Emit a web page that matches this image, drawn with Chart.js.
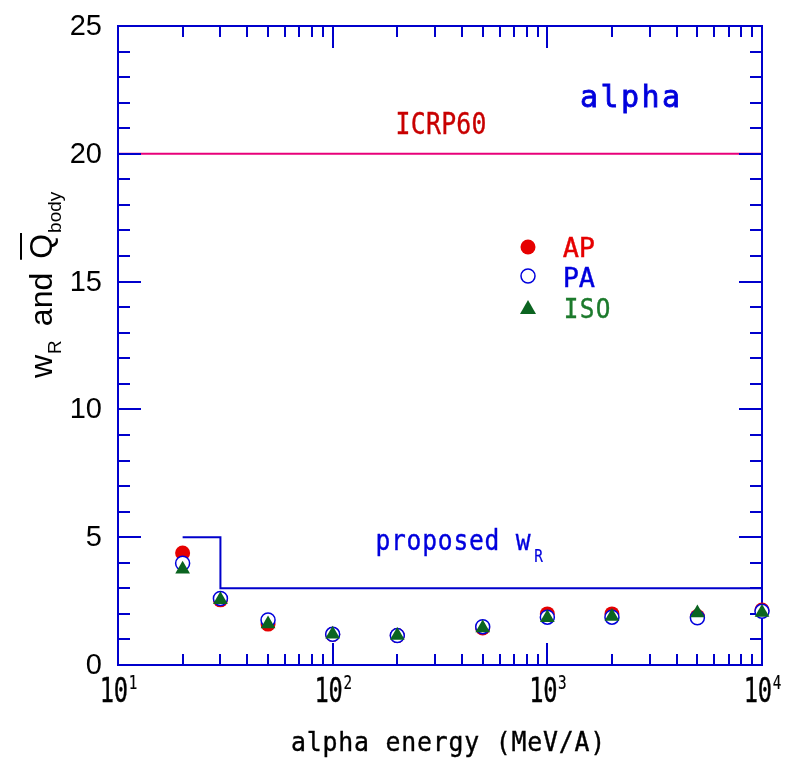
<!DOCTYPE html>
<html>
<head>
<meta charset="utf-8">
<script src="https://cdn.jsdelivr.net/npm/chart.js@4.4.0/dist/chart.umd.min.js"></script>
<style>
  html, body { margin: 0; padding: 0; background: #fff; }
  #wrap { width: 788px; height: 758px; }
</style>
</head>
<body>
<div id="wrap"><canvas id="c" width="788" height="758"></canvas></div>
<script>
// values
const energies = [20, 30, 50, 100, 200, 500, 1000, 2000, 5000, 10000];
const apValues = [4.38, 2.55, 1.6, 1.2, 1.15, 1.45, 2.0, 2.0, 1.9, 2.15];
const paValues = [3.98, 2.6, 1.76, 1.2, 1.15, 1.5, 1.87, 1.87, 1.85, 2.1];
const isoValues = [3.75, 2.55, 1.6, 1.2, 1.15, 1.45, 1.85, 1.9, 2.03, 2.05];
const proposedX = [20, 30, 30, 10000];
const proposedY = [5, 5, 3, 3];
const icrpX = [10, 10000];
const icrpY = [20, 20];
const yTicks = [0, 5, 10, 15, 20, 25];
const xDecades = [1, 2, 3, 4];

const AXIS = '#0000cc';
const RED = '#e60000';
const BLUE = '#0000dd';
const GREEN = '#0b6420';

const pts = (xs, ys) => xs.map((x, i) => ({ x: x, y: ys[i] }));

// gothic-like text, drawn char by char at a fixed pitch
function mono(ctx, text, x, y, size, pitch, sx, color, align, thick) {
  ctx.save();
  ctx.font = size + 'px "DejaVu Sans Mono"';
  ctx.fillStyle = color;
  ctx.strokeStyle = color;
  ctx.lineWidth = thick === undefined ? 0.3 : thick;
  ctx.textAlign = 'center';
  ctx.textBaseline = 'alphabetic';
  const w = text.length * pitch;
  let x0 = align === 'center' ? x - w / 2 : align === 'right' ? x - w : x;
  for (let i = 0; i < text.length; i++) {
    ctx.save();
    ctx.translate(x0 + pitch * (i + 0.5), y);
    ctx.scale(sx, 1);
    ctx.fillText(text[i], 0, 0);
    if (ctx.lineWidth > 0.01) ctx.strokeText(text[i], 0, 0);
    ctx.restore();
  }
  ctx.restore();
  return x0 + w;
}

// helvetica-like text, returns end x
function sans(ctx, text, x, y, size) {
  ctx.font = size + 'px "Liberation Sans"';
  ctx.textAlign = 'left';
  ctx.fillText(text, x, y);
  return x + ctx.measureText(text).width;
}

function drawFrame(chart) {
  const { ctx, chartArea: a, scales } = chart;
  ctx.save();
  ctx.strokeStyle = AXIS;
  ctx.lineWidth = 2;
  ctx.strokeRect(a.left, a.top, a.right - a.left, a.bottom - a.top);
  ctx.beginPath();
  for (let v = 0; v <= 25; v++) {
    const y = Math.round(scales.y.getPixelForValue(v));
    const len = v % 5 === 0 ? 23 : 12;
    ctx.moveTo(a.left, y); ctx.lineTo(a.left + len, y);
    ctx.moveTo(a.right, y); ctx.lineTo(a.right - len, y);
  }
  for (let d = 1; d <= 4; d++) {
    for (let m = 1; m <= 9; m++) {
      const v = m * Math.pow(10, d);
      if (v > 10000) break;
      const x = Math.round(scales.x.getPixelForValue(v));
      const len = m === 1 ? 22 : 11;
      ctx.moveTo(x, a.bottom); ctx.lineTo(x, a.bottom - len);
      ctx.moveTo(x, a.top); ctx.lineTo(x, a.top + len);
    }
  }
  ctx.stroke();
  ctx.restore();
}

function drawTexts(chart) {
  const { ctx, chartArea: a, scales } = chart;
  ctx.save();
  // y tick labels
  ctx.font = '29px "Liberation Sans"';
  ctx.fillStyle = '#000';
  ctx.textAlign = 'right';
  ctx.textBaseline = 'middle';
  yTicks.forEach(v => ctx.fillText(String(v), 102, scales.y.getPixelForValue(v) + 1));
  // x tick labels 10^n
  xDecades.forEach(d => {
    const x = scales.x.getPixelForValue(Math.pow(10, d));
    const w = 28 + 8;
    const end = mono(ctx, '10', x - w / 2, 702, 33, 14, 0.72, '#000', 'left', 0.4);
    mono(ctx, String(d), end + 1, 689, 19, 8, 0.75, '#000', 'left', 0.2);
  });
  // axis titles
  mono(ctx, 'alpha energy (MeV/A)', (a.left + a.right) / 2 + 8, 751, 27, 15.75, 0.92, '#000', 'center', 0.4);
  ctx.save();
  ctx.translate(52, 378);
  ctx.rotate(-Math.PI / 2);
  ctx.fillStyle = '#000';
  ctx.textBaseline = 'alphabetic';
  let p = sans(ctx, 'w', 0, 0, 32);
  p = sans(ctx, 'R', p + 1, 9, 19);
  p = sans(ctx, 'and', p + 14, 0, 32);
  const qx = p + 14;
  p = sans(ctx, 'Q', qx, 0, 32);
  ctx.strokeStyle = '#000';
  ctx.lineWidth = 2;
  ctx.beginPath(); ctx.moveTo(qx - 1, -31); ctx.lineTo(p + 1, -31); ctx.stroke();
  sans(ctx, 'body', p + 1, 9, 19);
  ctx.restore();
  // annotations
  mono(ctx, 'alpha', 630, 107, 30, 20.5, 1.0, BLUE, 'center', 0.8);
  mono(ctx, 'ICRP60', 441, 134, 31, 15.2, 0.8, '#c80000', 'center', 0.4);
  p = mono(ctx, 'proposed w', 375, 550, 29, 15.6, 0.85, BLUE, 'left', 0.4);
  mono(ctx, 'R', p + 2, 562, 18, 11, 0.8, BLUE, 'left', 0.2);
  // legend
  ctx.lineWidth = 1.5;
  ctx.fillStyle = RED;
  ctx.beginPath(); ctx.arc(528, 247, 7.5, 0, Math.PI * 2); ctx.fill();
  ctx.fillStyle = '#fff'; ctx.strokeStyle = BLUE;
  ctx.beginPath(); ctx.arc(528, 276, 7, 0, Math.PI * 2); ctx.fill(); ctx.stroke();
  ctx.fillStyle = GREEN;
  ctx.beginPath(); ctx.moveTo(528, 300); ctx.lineTo(536, 314); ctx.lineTo(520, 314); ctx.closePath(); ctx.fill();
  mono(ctx, 'AP', 563, 257, 27, 16, 1.0, RED, 'left', 0.4);
  mono(ctx, 'PA', 563, 287, 27, 16, 1.0, BLUE, 'left', 0.4);
  mono(ctx, 'ISO', 563, 318, 27, 16, 0.9, '#1c7a2c', 'left', 0.4);
  ctx.restore();
}

const decor = {
  id: 'decor',
  afterDatasetDraw(chart, args) { if (args.index === 4) drawFrame(chart); },
  afterDraw(chart) { drawTexts(chart); }
};

new Chart(document.getElementById('c'), {
  type: 'scatter',
  data: {
    datasets: [
      { label: 'ISO', data: pts(energies, isoValues), pointStyle: 'triangle', pointRadius: 8.5,
        backgroundColor: GREEN, borderColor: GREEN, borderWidth: 0, clip: false },
      { label: 'PA', data: pts(energies, paValues), pointStyle: 'circle', pointRadius: 7,
        backgroundColor: '#fff', borderColor: BLUE, borderWidth: 1.5, clip: false },
      { label: 'AP', data: pts(energies, apValues), pointStyle: 'circle', pointRadius: 7.5,
        backgroundColor: RED, borderColor: RED, borderWidth: 0, clip: false },
      { label: 'proposed', data: pts(proposedX, proposedY), showLine: true, pointRadius: 0,
        borderColor: AXIS, borderWidth: 2, fill: false, clip: false },
      { label: 'ICRP60', data: pts(icrpX, icrpY), showLine: true, pointRadius: 0,
        borderColor: '#e8007a', borderWidth: 2, fill: false, clip: false }
    ]
  },
  options: {
    responsive: false,
    devicePixelRatio: 1,
    animation: false,
    layout: { padding: { left: 118, right: 26, top: 26, bottom: 93 } },
    plugins: { legend: { display: false }, tooltip: { enabled: false } },
    scales: {
      x: { type: 'logarithmic', min: 10, max: 10000, display: false },
      y: { type: 'linear', min: 0, max: 25, display: false }
    }
  },
  plugins: [decor]
});
</script>
</body>
</html>
